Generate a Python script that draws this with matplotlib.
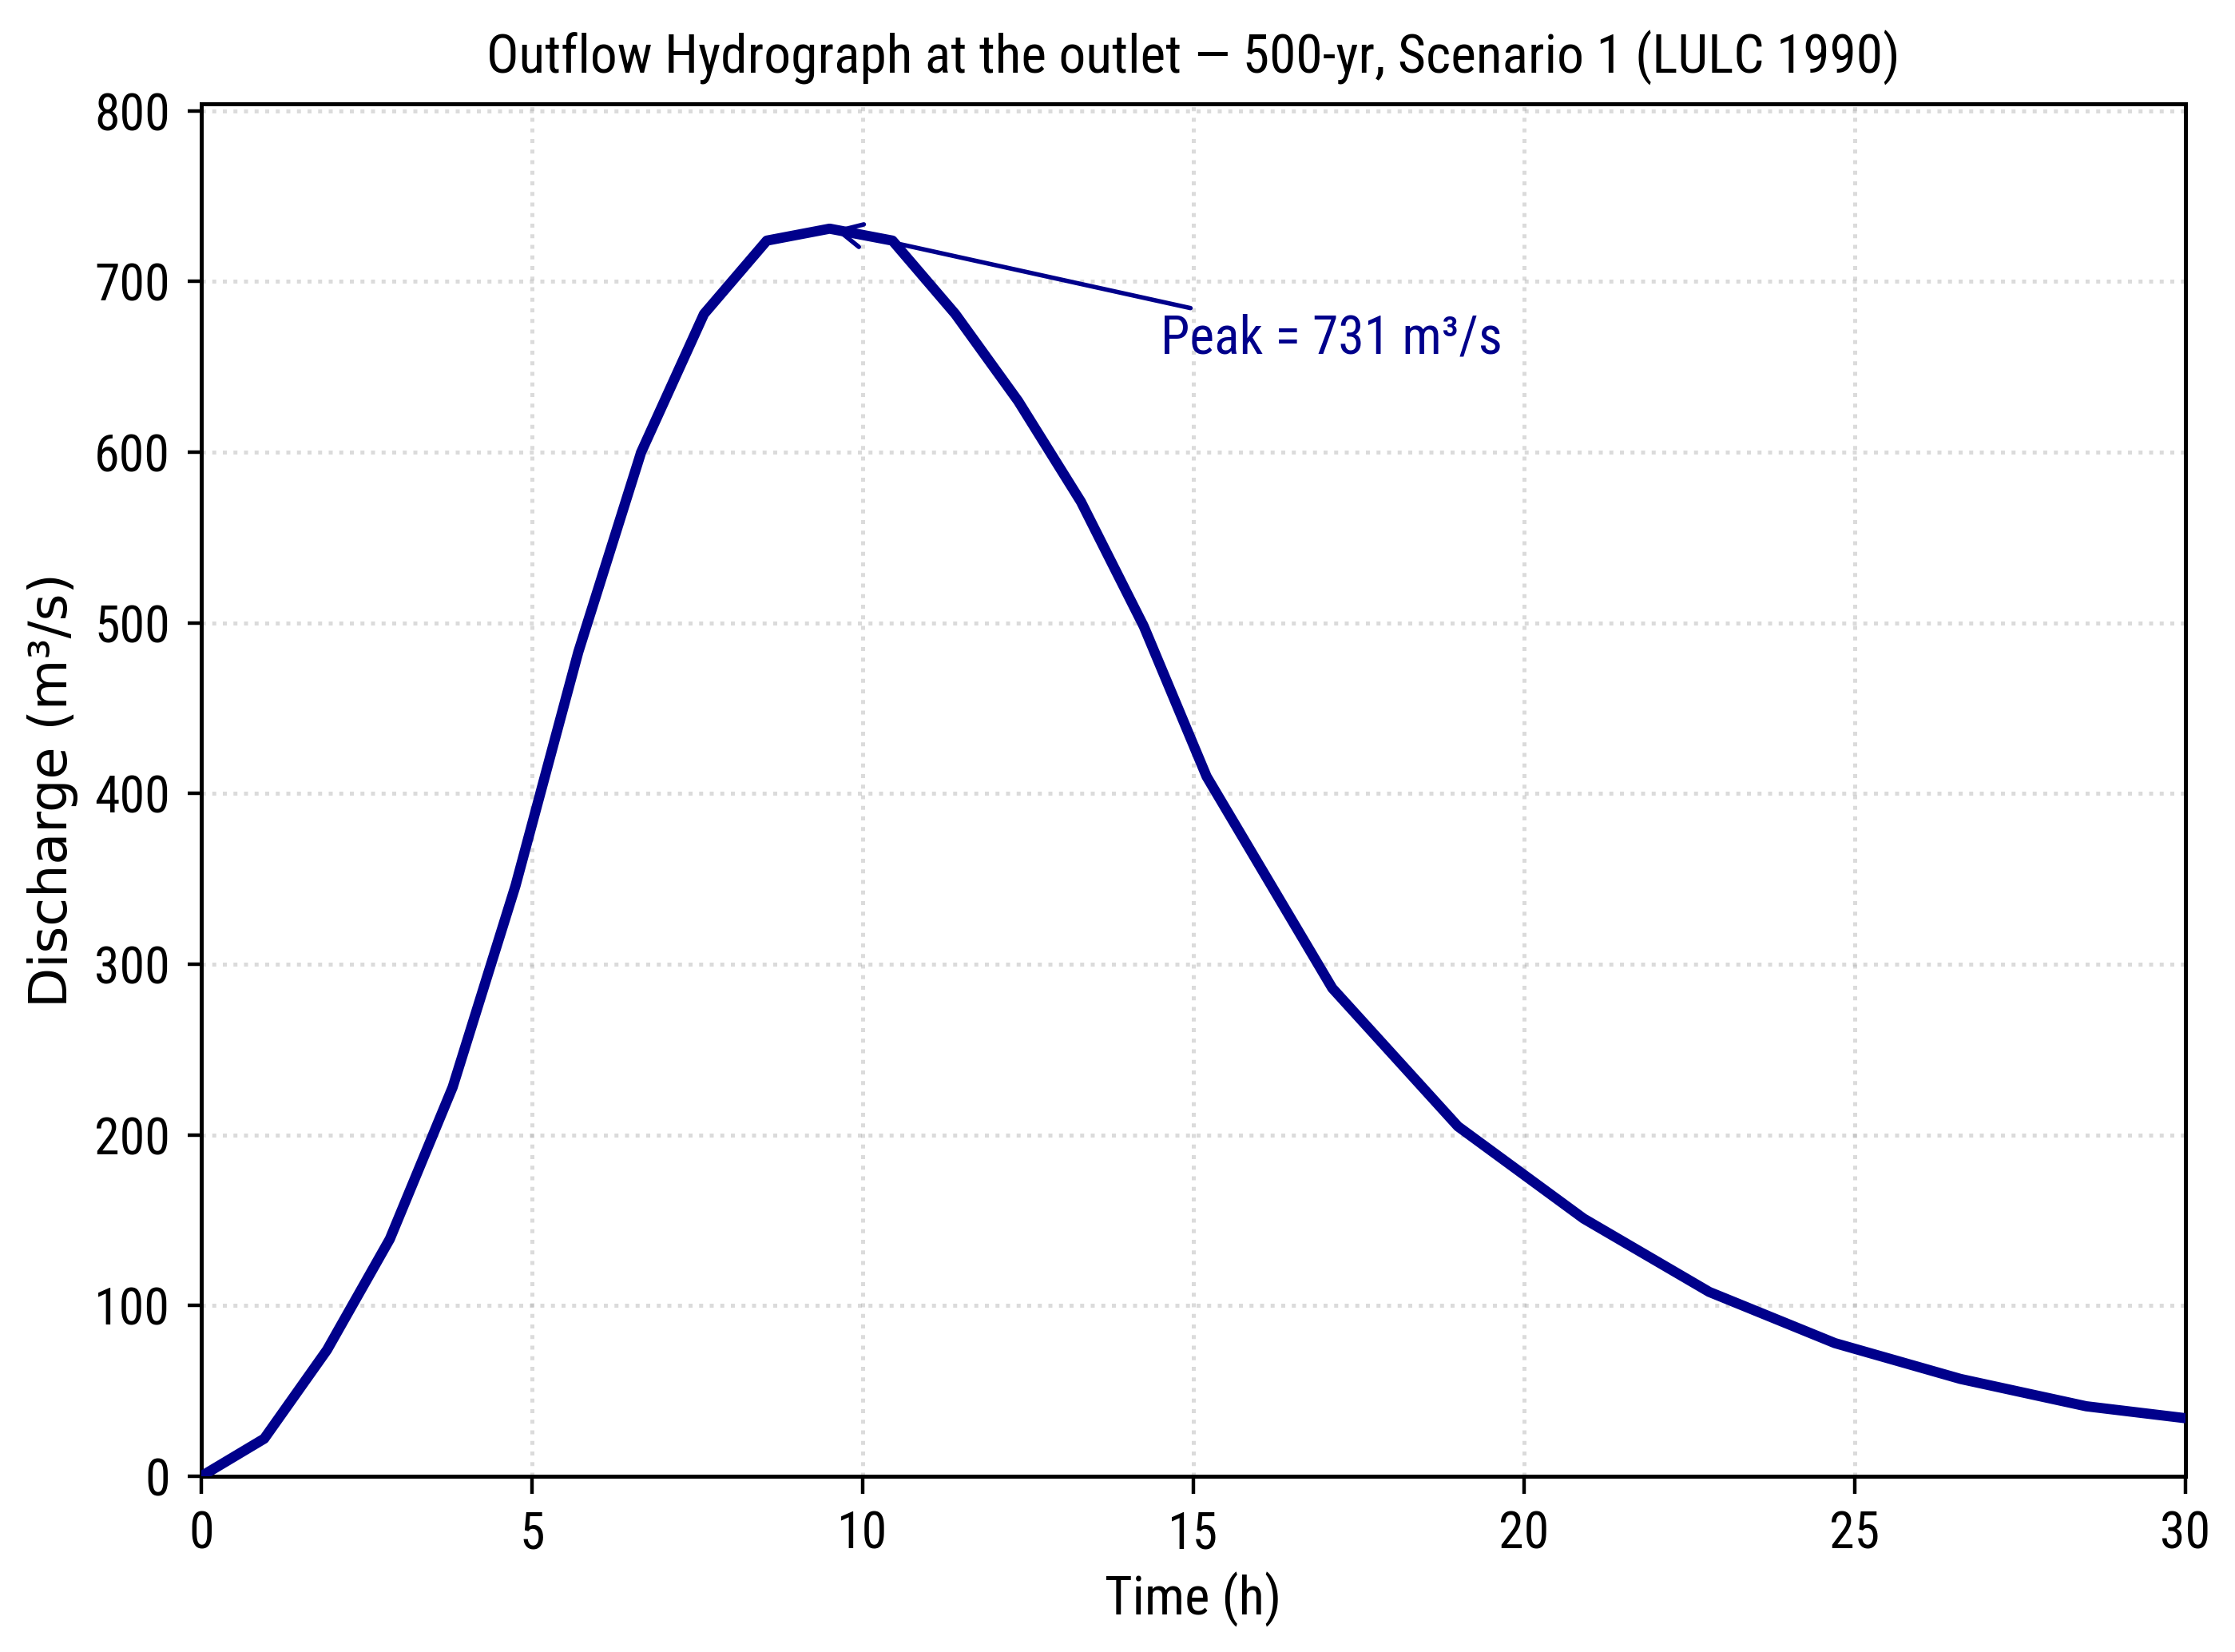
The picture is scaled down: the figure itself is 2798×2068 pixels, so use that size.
import numpy as np
import matplotlib
matplotlib.use("Agg")
import matplotlib.pyplot as plt
from matplotlib import font_manager

# hydrograph (time in h, discharge in m3/s)
time_h = [0.0, 0.95, 1.9, 2.85, 3.8, 4.75, 5.7, 6.65, 7.6, 8.55, 9.5, 10.45,
          11.4, 12.35, 13.3, 14.25, 15.2, 17.1, 19.0, 20.9, 22.8, 24.7, 26.6,
          28.5, 30.0]
discharge = [0, 22, 74, 139, 228, 346, 483, 600, 681, 724, 731, 724,
             681, 630, 571, 498, 410, 286, 205, 151, 108, 78, 57,
             41, 34]

title = "Outflow Hydrograph at the outlet \u2014 500-yr, Scenario 1 (LULC 1990)"
xticks = [0, 5, 10, 15, 20, 25, 30]
yticks = [0, 100, 200, 300, 400, 500, 600, 700, 800]

# the reference text is horizontally narrow; use a condensed face if one exists
narrow = ['DejaVu Sans Condensed', 'Roboto Condensed', 'DejaVu Sans']
try:
    p = font_manager.findfont(font_manager.FontProperties(family=narrow[:2], stretch='condensed'),
                              fallback_to_default=False)
    have_condensed = 'ondensed' in p
except Exception:
    have_condensed = False
scale = 1.0 if have_condensed else 0.85

line_color = '#00008B'

peak_i = int(np.argmax(discharge))
peak_t = time_h[peak_i]
peak_q = discharge[peak_i]

fig = plt.figure(figsize=(13.99, 10.34), dpi=200)
ax = fig.add_axes([0.0901, 0.1064, 0.8877, 0.8307])

ax.plot(time_h, discharge, color=line_color, lw=4.6, zorder=3)

ax.annotate(f"Peak = {peak_q:.0f} m\u00b3/s",
            xy=(peak_t, peak_q), xytext=(peak_t + 5, peak_q * 0.9),
            color=line_color, fontsize=23.7 * scale, family=narrow, fontstretch='condensed',
            arrowprops=dict(arrowstyle='->', color=line_color, lw=2.0,
                            mutation_scale=26))

ax.set_xlim(0, 30)
ax.set_ylim(0, peak_q * 1.1)
ax.set_xticks(xticks)
ax.set_yticks(yticks)
ax.grid(True, linestyle=':', color='#b0b0b0', alpha=0.45, lw=1.8)

for lab in ax.get_xticklabels() + ax.get_yticklabels():
    lab.set_family(narrow)
    lab.set_fontstretch('condensed')
    lab.set_fontsize(23 * scale)
ax.tick_params(axis='x', length=8, width=1.6, pad=7)
ax.tick_params(axis='y', length=6, width=1.6, pad=8)
for s in ax.spines.values():
    s.set_linewidth(1.8)

ax.set_title(title, fontsize=24.3 * scale, family=narrow, fontstretch='condensed', pad=14)
ax.set_xlabel("Time (h)", fontsize=24 * scale, family=narrow, fontstretch='condensed', labelpad=6)
ax.set_ylabel("Discharge (m\u00b3/s)", fontsize=23.5, family='DejaVu Sans')
ax.yaxis.set_label_coords(-0.062, 0.5)

fig.savefig("out.png", dpi=200)
